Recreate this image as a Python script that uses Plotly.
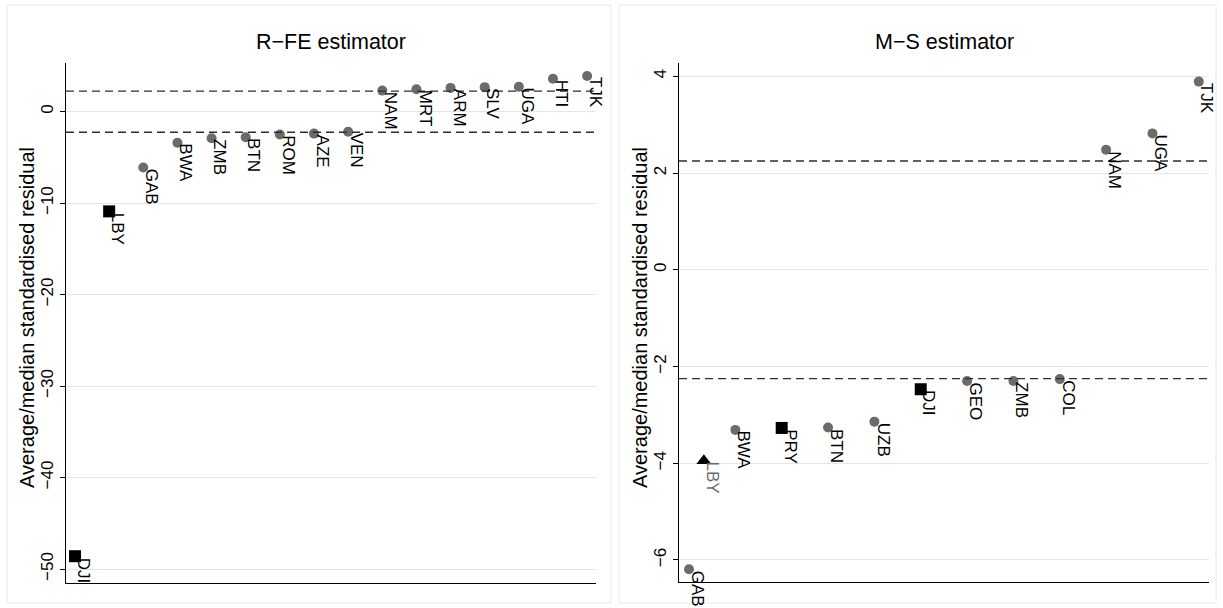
import plotly.graph_objects as go

# ---------------- data ----------------
left_countries = ["DJI", "LBY", "GAB", "BWA", "ZMB", "BTN", "ROM", "AZE", "VEN",
                  "NAM", "MRT", "ARM", "SLV", "UGA", "HTI", "TJK"]
left_rank = [1, 2, 3, 4, 5, 6, 7, 8, 9, 10, 11, 12, 13, 14, 15, 16]
left_resid = [-48.6, -10.9, -6.1, -3.4, -2.9, -2.8, -2.5, -2.4, -2.2,
              2.3, 2.45, 2.6, 2.68, 2.72, 3.6, 3.9]
left_group = ["bad", "bad", "std", "std", "std", "std", "std", "std", "std",
              "std", "std", "std", "std", "std", "std", "std"]

right_countries = ["GAB", "LBY", "BWA", "PRY", "BTN", "UZB", "DJI", "GEO", "ZMB",
                   "COL", "NAM", "UGA", "TJK"]
right_rank = [1, 1.32, 2, 3, 4, 5, 6, 7, 8, 9, 10, 11, 12]
right_resid = [-6.19, -3.95, -3.31, -3.27, -3.26, -3.14, -2.47, -2.30, -2.30,
               -2.26, 2.48, 2.82, 3.89]
right_group = ["std", "good", "std", "bad", "std", "std", "bad", "std", "std",
               "std", "std", "std", "std"]

cutoff = 2.25
panel_titles = ["R\u2212FE estimator", "M\u2212S estimator"]
y_title = "Average/median standardised residual"
left_ticks = [-50, -40, -30, -20, -10, 0]
right_ticks = [-6, -4, -2, 0, 2, 4]

# ---------------- layout helpers ----------------
W, H = 1223, 608
def fx(p):
    return p / W
def fy(p):
    return 1 - p / H

marker_style = {
    "std": dict(symbol="circle", size=10, color="#6b6b6b"),
    "bad": dict(symbol="square", size=12, color="black"),
    "good": dict(symbol="triangle-up", size=13, color="black"),
}
label_color = {"std": "black", "bad": "black", "good": "#6a6a6a"}

fig = go.Figure()
annotations = []
shapes = []

panels = [
    (left_countries, left_rank, left_resid, left_group, "x", "y", 66, 596),
    (right_countries, right_rank, right_resid, right_group, "x2", "y2", 679, 1209),
]

for countries, rank, resid, group, xa, ya, px0, px1 in panels:
    for g in ["std", "bad", "good"]:
        idx = [i for i, gg in enumerate(group) if gg == g]
        if not idx:
            continue
        st = marker_style[g]
        fig.add_trace(go.Scatter(
            x=[rank[i] for i in idx], y=[resid[i] for i in idx],
            mode="markers", xaxis=xa, yaxis=ya, showlegend=False,
            marker=dict(symbol=st["symbol"], size=st["size"], color=st["color"],
                        line=dict(width=0)),
            hoverinfo="text", text=[countries[i] for i in idx],
        ))
    for c, xv, yv, g in zip(countries, rank, resid, group):
        annotations.append(dict(
            x=xv, y=yv, xref=xa, yref=ya, text=c, showarrow=False,
            textangle=90, xanchor="left", yanchor="top", xshift=-3, yshift=1,
            font=dict(size=17, color=label_color[g]),
        ))
    for v in (cutoff, -cutoff):
        shapes.append(dict(
            type="line", xref=f"{xa} domain", x0=0, x1=1, yref=ya, y0=v, y1=v,
            line=dict(color="#2e2e2e", width=1.4, dash="8px,5px"), layer="above",
        ))
    # y-axis title
    annotations.append(dict(
        x=fx(px0 - 39), y=fy(318), xref="paper", yref="paper", text=y_title,
        showarrow=False, textangle=-90, xanchor="center", yanchor="middle",
        font=dict(size=20, color="black"),
    ))

# panel borders
for x0, x1 in [(7, 611), (619, 1216)]:
    shapes.append(dict(type="rect", xref="paper", yref="paper",
                       x0=fx(x0), x1=fx(x1), y0=fy(603), y1=fy(5),
                       line=dict(color="#e8e8e8", width=1), layer="below"))

# panel titles
for txt, (a, b) in zip(panel_titles, [(66, 596), (679, 1209)]):
    annotations.append(dict(
        x=fx((a + b) / 2), y=fy(42), xref="paper", yref="paper", text=txt,
        showarrow=False, xanchor="center", yanchor="middle",
        font=dict(family="Liberation Sans Narrow, Arial Narrow, Liberation Sans, Arial",
                  size=21.5, color="black"),
    ))

common_y = dict(
    tickangle=-90, ticks="outside", ticklen=5, tickcolor="black", tickwidth=1,
    showline=True, linecolor="black", linewidth=1, showgrid=True,
    gridcolor="#e6e6e6", gridwidth=1.3, zeroline=False,
    tickfont=dict(size=17, color="black"), ticklabelstandoff=0,
)
common_x = dict(showgrid=False, zeroline=False, showticklabels=False, ticks="",
                showline=True, linecolor="black", linewidth=1)

fig.update_layout(
    width=W, height=H, margin=dict(l=0, r=0, t=0, b=0),
    paper_bgcolor="white", plot_bgcolor="white",
    font=dict(family="Liberation Sans, Arial, sans-serif", color="black"),
    xaxis=dict(domain=[fx(66), fx(596)], range=[0.736, 16.26], anchor="y", **common_x),
    yaxis=dict(domain=[fy(583), fy(63)], range=[-51.53, 5.32], anchor="x",
               tickvals=left_ticks, **common_y),
    xaxis2=dict(domain=[fx(679), fx(1209)], range=[0.784, 12.22], anchor="y2", **common_x),
    yaxis2=dict(domain=[fy(582), fy(63)], range=[-6.455, 4.275], anchor="x2",
                tickvals=right_ticks, **common_y),
    annotations=annotations, shapes=shapes,
)

fig.write_html("out.html")
